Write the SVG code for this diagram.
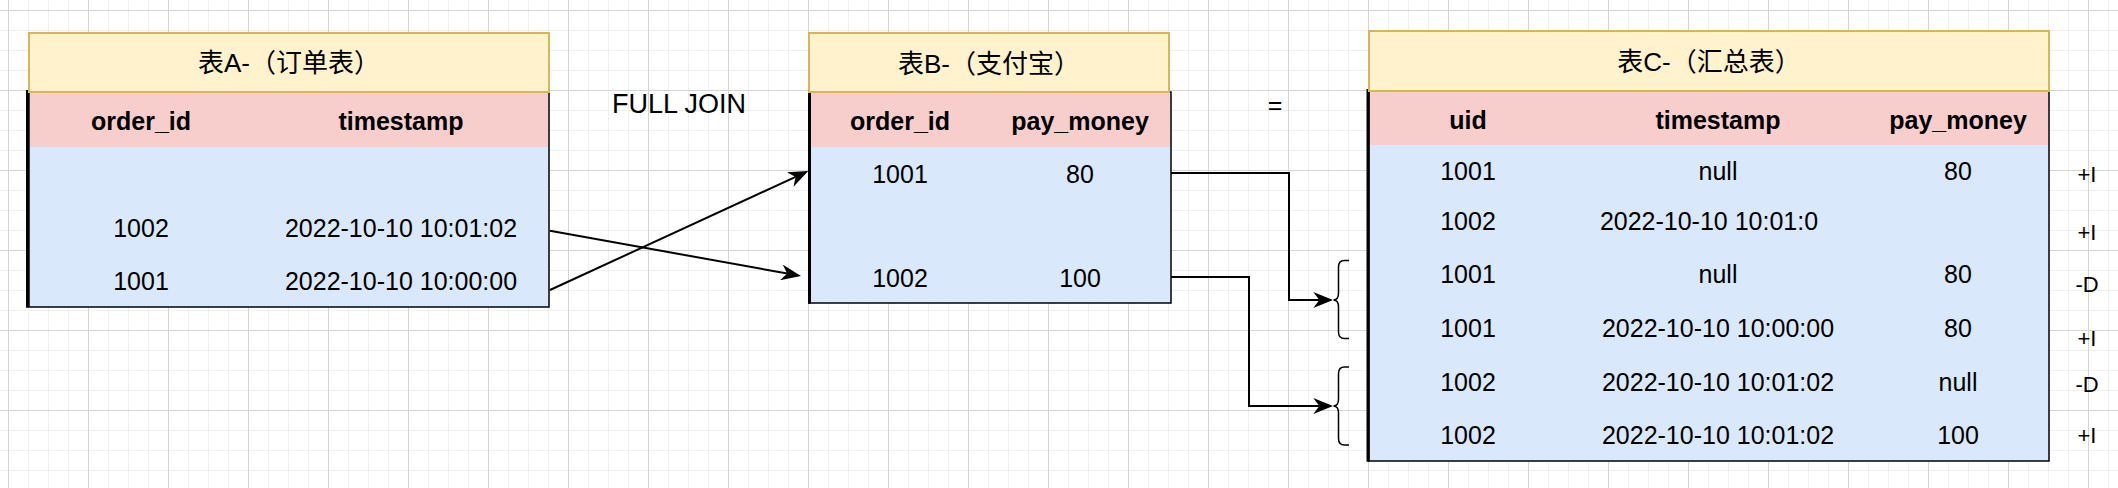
<svg xmlns="http://www.w3.org/2000/svg" width="2118" height="488" viewBox="0 0 2118 488">
<style>
.title{fill:#fff2cc;stroke:#d6b656;stroke-width:2}
.body{fill:#dae8fc;stroke:#000;stroke-width:1.5}
.hdr{fill:#f8cecc;stroke:none}
.edge{stroke:#000;stroke-width:3}
.tt{font-family:"Liberation Sans","Noto Sans CJK SC",sans-serif;font-size:26px;text-anchor:middle;fill:#000}
.th{font-family:"Liberation Sans",sans-serif;font-size:25px;font-weight:bold;text-anchor:middle;fill:#000}
.td{font-family:"Liberation Sans",sans-serif;font-size:25px;text-anchor:middle;fill:#000}
.lbl{font-family:"Liberation Sans",sans-serif;font-size:27px;text-anchor:middle;fill:#000}
.op{font-family:"Liberation Sans",sans-serif;font-size:22px;text-anchor:middle;fill:#000}
.conn{fill:none;stroke:#000;stroke-width:2}
.brace{fill:none;stroke:#000;stroke-width:1.5}
</style>
<defs>
<pattern id="grid" width="80" height="80" patternUnits="userSpaceOnUse" x="8" y="10">
<path d="M20.5,0V80M40.5,0V80M60.5,0V80M0,20.5H80M0,40.5H80M0,60.5H80" stroke="#efefef" stroke-width="1" fill="none"/>
<path d="M0.5,0V80M0,0.5H80" stroke="#d4d4d4" stroke-width="1" fill="none"/>
</pattern>
<marker id="arr" viewBox="0 0 20 16" refX="6" refY="8" markerWidth="20" markerHeight="16" markerUnits="userSpaceOnUse" orient="auto">
<path d="M0,0 L20,8 L0,16 L6,8 Z" fill="#000"/>
</marker>
</defs>
<rect width="2118" height="488" fill="#fff"/>
<rect width="2118" height="488" fill="url(#grid)"/>

<g id="tableA">
<rect class="body" x="29" y="92" width="520" height="215"/>
<rect class="hdr" x="30" y="92" width="518" height="55"/>
<line class="edge" x1="27.5" y1="90" x2="27.5" y2="307.7"/>
<rect class="title" x="29" y="33" width="520" height="59"/>
<text class="tt" x="289" y="72">表A-（订单表）</text>
<text class="th" x="141" y="130">order_id</text>
<text class="th" x="401" y="130">timestamp</text>
<text class="td" x="141" y="236.5">1002</text>
<text class="td" x="401" y="236.5">2022-10-10 10:01:02</text>
<text class="td" x="141" y="290">1001</text>
<text class="td" x="401" y="290">2022-10-10 10:00:00</text>
</g>

<g id="tableB">
<rect class="body" x="809" y="92" width="362" height="211"/>
<rect class="hdr" x="810" y="92" width="360" height="55"/>
<line class="edge" x1="809.5" y1="90" x2="809.5" y2="303.7"/>
<rect class="title" x="809" y="33" width="360" height="59"/>
<text class="tt" x="989" y="73">表B-（支付宝）</text>
<text class="th" x="900" y="130">order_id</text>
<text class="th" x="1080" y="130">pay_money</text>
<text class="td" x="900" y="182.7">1001</text>
<text class="td" x="1080" y="182.7">80</text>
<text class="td" x="900" y="286.7">1002</text>
<text class="td" x="1080" y="286.7">100</text>
</g>

<g id="tableC">
<rect class="body" x="1369" y="91" width="680" height="370"/>
<rect class="hdr" x="1370" y="91" width="678" height="54"/>
<line class="edge" x1="1368" y1="89" x2="1368" y2="461.7"/>
<rect class="title" x="1369" y="31" width="680" height="60"/>
<text class="tt" x="1709" y="71">表C-（汇总表）</text>
<text class="th" x="1468" y="129">uid</text>
<text class="th" x="1718" y="129">timestamp</text>
<text class="th" x="1958" y="129">pay_money</text>
<text class="td" x="1468" y="180">1001</text>
<text class="td" x="1718" y="180">null</text>
<text class="td" x="1958" y="180">80</text>
<text class="td" x="1468" y="230">1002</text>
<text class="td" x="1709" y="230">2022-10-10 10:01:0</text>
<text class="td" x="1468" y="283.3">1001</text>
<text class="td" x="1718" y="283.3">null</text>
<text class="td" x="1958" y="283.3">80</text>
<text class="td" x="1468" y="337.3">1001</text>
<text class="td" x="1718" y="337.3">2022-10-10 10:00:00</text>
<text class="td" x="1958" y="337.3">80</text>
<text class="td" x="1468" y="391">1002</text>
<text class="td" x="1718" y="391">2022-10-10 10:01:02</text>
<text class="td" x="1958" y="391">null</text>
<text class="td" x="1468" y="444">1002</text>
<text class="td" x="1718" y="444">2022-10-10 10:01:02</text>
<text class="td" x="1958" y="444">100</text>
</g>

<g id="label-fulljoin"><text class="lbl" x="679" y="113">FULL JOIN</text></g>
<g id="label-equals"><text class="td" x="1275" y="114">=</text></g>

<g id="ops">
<text class="op" x="2087" y="182">+I</text>
<text class="op" x="2087" y="240">+I</text>
<text class="op" x="2087" y="292">-D</text>
<text class="op" x="2087" y="345.5">+I</text>
<text class="op" x="2087" y="392">-D</text>
<text class="op" x="2087" y="443">+I</text>
</g>

<g id="braces">
<path class="brace" d="M1349,260.5 H1344.5 Q1338.5,260.5 1338.5,267 V293 Q1338.5,300 1333.5,300 Q1338.5,300 1338.5,307 V332 Q1338.5,338.5 1344.5,338.5 H1349"/>
<path class="brace" d="M1349,367 H1344.5 Q1338.5,367 1338.5,373.5 V399 Q1338.5,406 1333.5,406 Q1338.5,406 1338.5,413 V438.5 Q1338.5,445 1344.5,445 H1349"/>
</g>

<g id="connectors">
<path class="conn" d="M550,230.7 L787.2,273.5" marker-end="url(#arr)"/>
<path class="conn" d="M550,290 L795.6,176.9" marker-end="url(#arr)"/>
<path class="conn" d="M1171,173 H1289 V300 H1319.3" marker-end="url(#arr)"/>
<path class="conn" d="M1171,277 H1249 V406 H1319.3" marker-end="url(#arr)"/>
</g>
</svg>
